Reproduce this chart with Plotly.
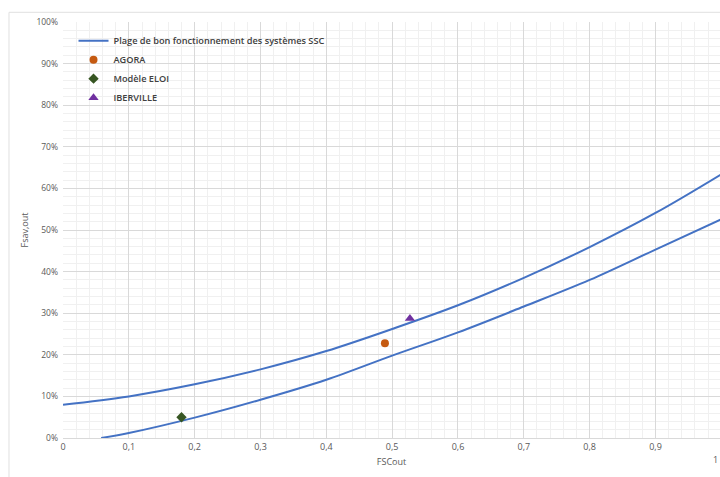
import plotly.graph_objects as go

# Upper and lower limits of the "good operating range" band
x_upper = [0.0, 0.1, 0.2, 0.3, 0.4, 0.5, 0.6, 0.7, 0.8, 0.9, 1.0]
y_upper = [0.080, 0.100, 0.129, 0.165, 0.209, 0.262, 0.319, 0.385, 0.459, 0.541, 0.634]
x_lower = [0.058, 0.1, 0.2, 0.3, 0.4, 0.5, 0.6, 0.7, 0.8, 0.9, 1.0]
y_lower = [0.000, 0.012, 0.049, 0.092, 0.140, 0.198, 0.254, 0.316, 0.380, 0.453, 0.526]

# Case study points
agora_x, agora_y = [0.489], [0.228]
eloi_x, eloi_y = [0.18], [0.050]
iberville_x, iberville_y = [0.527], [0.287]

x_ticks = [0, 0.1, 0.2, 0.3, 0.4, 0.5, 0.6, 0.7, 0.8, 0.9]
x_ticklabels = ["0", "0,1", "0,2", "0,3", "0,4", "0,5", "0,6", "0,7", "0,8", "0,9"]

BLUE = "#4472C4"
FONT = "Open Sans, Noto Sans, sans-serif"

fig = go.Figure()
fig.add_trace(go.Scatter(x=x_upper, y=y_upper, mode="lines", line=dict(color=BLUE, width=2, shape="spline"),
                         name="Plage de bon fonctionnement des systèmes SSC"))
fig.add_trace(go.Scatter(x=x_lower, y=y_lower, mode="lines", line=dict(color=BLUE, width=2, shape="spline"),
                         name="lower", showlegend=False))
fig.add_trace(go.Scatter(x=agora_x, y=agora_y, mode="markers", name="AGORA",
                         marker=dict(symbol="circle", size=8, color="#C55A11")))
fig.add_trace(go.Scatter(x=eloi_x, y=eloi_y, mode="markers", name="Modèle ELOI",
                         marker=dict(symbol="diamond", size=8, color="#375623")))
fig.add_trace(go.Scatter(x=iberville_x, y=iberville_y, mode="markers", name="IBERVILLE",
                         marker=dict(symbol="triangle-up", size=9, color="#7030A0")))

fig.update_layout(
    width=720, height=477,
    margin=dict(l=63, r=0, t=22, b=39),
    paper_bgcolor="white", plot_bgcolor="white",
    font=dict(family=FONT, size=9, color="#595959"),
    separators=", ",
    legend=dict(x=0.016, y=0.990, xanchor="left", yanchor="top",
                bgcolor="rgba(0,0,0,0)", font=dict(size=9.2, color="#404040", family=FONT, weight=600),
                tracegroupgap=0),
    xaxis=dict(range=[0, 0.998], tickvals=x_ticks, ticktext=x_ticklabels, automargin=False,
               showgrid=True, gridcolor="#d9d9d9", gridwidth=1, zeroline=False,
               showline=True, linecolor="#d9d9d9", ticks="",
               minor=dict(dtick=0.02, showgrid=True, gridcolor="#f0f0f0"),
               title=dict(text="FSCout", font=dict(size=9, color="#595959"), standoff=6),
               tickfont=dict(size=9, color="#595959")),
    yaxis=dict(range=[0, 1], dtick=0.1, tickformat=".0%", automargin=False,
               showgrid=True, gridcolor="#d9d9d9", gridwidth=1, zeroline=False,
               showline=False, ticks="", ticklabelstandoff=4,
               minor=dict(dtick=0.02, showgrid=True, gridcolor="#f0f0f0"),
               title=dict(text="Fsav,out", font=dict(size=9, color="#595959"), standoff=6),
               tickfont=dict(size=8.5, color="#595959")),
    shapes=[
        dict(type="line", xref="paper", yref="paper", x0=-0.0822, x1=-0.0822, y0=1.0233, y1=-0.2,
             line=dict(color="#e0e0e0", width=1)),
        dict(type="line", xref="paper", yref="paper", x0=-0.0822, x1=1.05, y0=1.0233, y1=1.0233,
             line=dict(color="#e0e0e0", width=1)),
    ],
    annotations=[
        dict(text="1", x=1.0, y=0, xref="paper", yref="paper", yshift=-13, showarrow=False,
             font=dict(size=9, color="#595959"), xanchor="right", yanchor="top")
    ],
)

fig.write_html("out.html", config={"displayModeBar": False},
               post_script="document.body.style.margin='0';document.body.style.overflow='hidden';")
